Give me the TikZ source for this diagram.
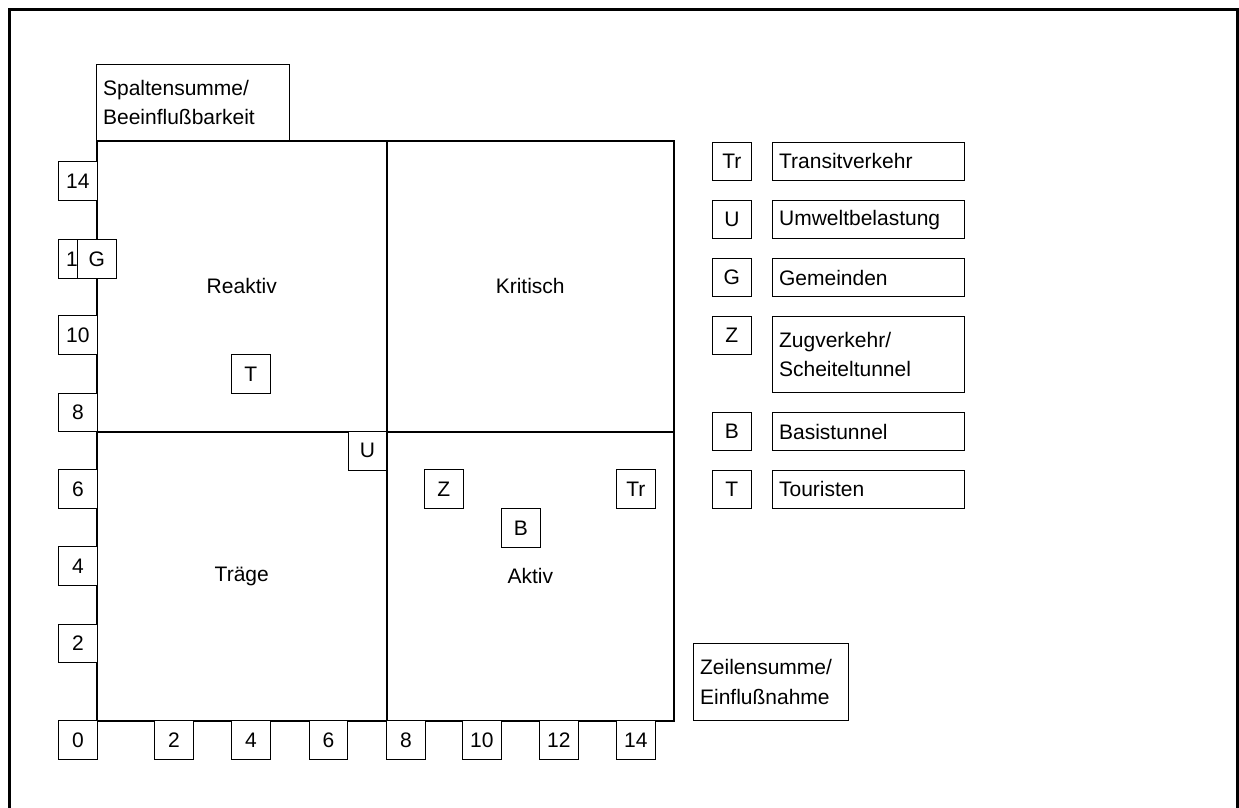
\documentclass[tikz,border=0pt]{standalone}
\usepackage{fontspec}
\setmainfont{Liberation Sans}
\newcommand\diafont{\fontsize{21}{29.5}\selectfont}
\begin{document}
\begin{tikzpicture}[x=1pt,y=-1pt,
  every node/.style={font=\diafont},
  lbl/.style={draw, fill=white, line width=1.2pt, minimum width=38.5pt, minimum height=38.5pt, inner sep=0pt, anchor=north west},
  quad/.style={draw, line width=1.5pt, anchor=north west, inner sep=0pt},
  txtbox/.style={draw, fill=white, line width=1.2pt, anchor=north west, align=left, inner xsep=6.5pt, inner ysep=0pt}]
\useasboundingbox (0,0) rectangle (1239,807);
\begin{scope}
\clip (0,0) rectangle (1239,807);
\draw[line width=3pt] (9.5,9.5) rectangle (1237,820);
\end{scope}
% quadrants
\node[quad, minimum width=290pt, minimum height=291pt] (reaktiv) at (96,140) {Reaktiv};
\node[quad, minimum width=287pt, minimum height=291pt] (kritisch) at (386,140) {Kritisch};
\node[quad, minimum width=290pt, minimum height=289pt] (traege) at (96,431) {Träge};
\node[quad, minimum width=287pt, minimum height=289pt] (aktiv) at (386,431) {Aktiv};
% axis titles
\node[txtbox, text width=180pt, minimum height=76pt] (spalte) at (96,64) {Spaltensumme/\\Beeinflußbarkeit};
\node[txtbox, text width=142pt, minimum height=77pt] (zeile) at (693,643) {Zeilensumme/\\Einflußnahme};
% left axis
\node[lbl] (y14) at (58,161) {14};
\node[lbl] (y12) at (58,239) {12};
\node[lbl] (y10) at (58,315) {10};
\node[lbl] (y8) at (58,392.5) {8};
\node[lbl] (y6) at (58,469) {6};
\node[lbl] (y4) at (58,546) {4};
\node[lbl] (y2) at (58,623.5) {2};
\node[lbl] (y0) at (58,720) {0};
% bottom axis
\node[lbl] (x2) at (154,720) {2};
\node[lbl] (x4) at (231,720) {4};
\node[lbl] (x6) at (308.5,720) {6};
\node[lbl] (x8) at (386,720) {8};
\node[lbl] (x10) at (462,720) {10};
\node[lbl] (x12) at (539,720) {12};
\node[lbl] (x14) at (616,720) {14};
% items in the matrix
\node[lbl] (pG) at (77,239) {G};
\node[lbl] (pT) at (231,354) {T};
\node[lbl] (pU) at (347.5,431) {U};
\node[lbl] (pZ) at (424,469) {Z};
\node[lbl] (pB) at (501,508) {B};
\node[lbl] (pTr) at (616,469) {Tr};
% legend
\node[lbl, minimum height=37.5pt] (kTr) at (712,142) {Tr};
\node[txtbox, text width=179pt, minimum height=37.5pt] (lTr) at (772,142) {Transitverkehr};
\node[lbl, minimum height=38pt] (kU) at (712,200) {U};
\node[txtbox, text width=179pt, minimum height=38pt] (lU) at (772,200) {Umweltbelastung};
\node[lbl, minimum height=38pt] (kG) at (712,258) {G};
\node[txtbox, text width=179pt, minimum height=38pt] (lG) at (772,258) {Gemeinden};
\node[lbl, minimum height=37.5pt] (kZ) at (712,316) {Z};
\node[txtbox, text width=179pt, minimum height=76pt] (lZ) at (772,316) {Zugverkehr/\\Scheiteltunnel};
\node[lbl, minimum height=38pt] (kB) at (712,412) {B};
\node[txtbox, text width=179pt, minimum height=38pt] (lB) at (772,412) {Basistunnel};
\node[lbl, minimum height=38.5pt] (kT) at (712,469.5) {T};
\node[txtbox, text width=179pt, minimum height=38.5pt] (lT) at (772,469.5) {Touristen};
\end{tikzpicture}
\end{document}
